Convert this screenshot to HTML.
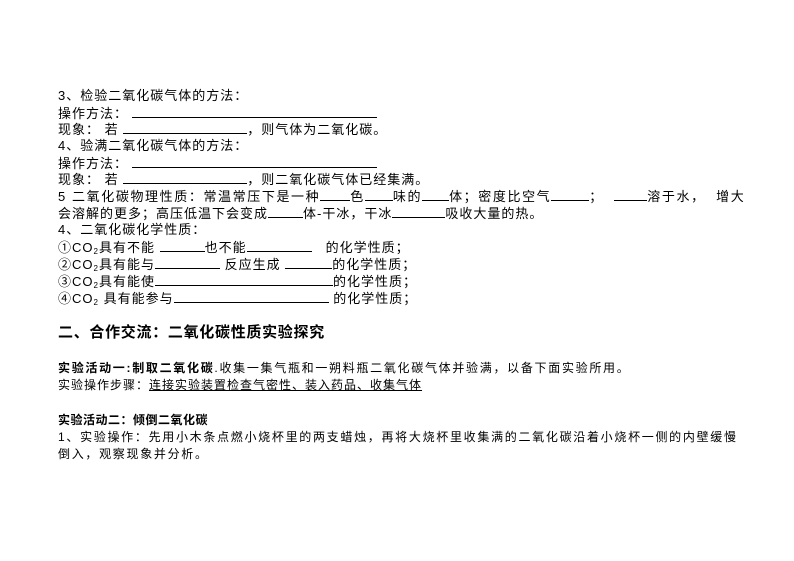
<html><head><style>
body{margin:0;width:794px;height:561px;background:#fff;position:relative;font-family:"Liberation Sans","Noto Sans CJK SC",sans-serif;font-size:12px;color:#000}
.l{position:absolute;left:58px;white-space:nowrap;line-height:16px}
.j{width:687px;text-align:justify;text-align-last:justify;white-space:normal}
.t{font-size:13px;letter-spacing:1px}
.u{display:inline-block;border-bottom:1px solid #000;height:12px;vertical-align:baseline;letter-spacing:0}
sub{font-size:8px;vertical-align:-2px;line-height:0}
b{font-weight:bold}
</style></head><body>
<div class="l t" style="top:88px">3、检验二氧化碳气体的方法：</div>
<div class="l t" style="top:105px">操作方法：<span class="u" style="width:245px;margin-left:4px"></span></div>
<div class="l t" style="top:121px">现象： 若 <span class="u" style="width:124px"></span>，则气体为二氧化碳。</div>
<div class="l t" style="top:138px">4、验满二氧化碳气体的方法：</div>
<div class="l t" style="top:155px">操作方法：<span class="u" style="width:245px;margin-left:4px"></span></div>
<div class="l t" style="top:171px">现象： 若 <span class="u" style="width:124px"></span>，则二氧化碳气体已经集满。</div>
<div class="l t" style="top:188px;letter-spacing:1.6px">5 二氧化碳物理性质：常温常压下是一种<span class="u" style="width:30px"></span>色<span class="u" style="width:28px"></span>味的<span class="u" style="width:27px"></span>体；密度比空气<span class="u" style="width:38px"></span>；&nbsp;&nbsp;<span class="u" style="width:33px"></span>溶于水，&nbsp;&nbsp;增大</div>
<div class="l t" style="top:205px">会溶解的更多；高压低温下会变成<span class="u" style="width:35px"></span>体-干冰，干冰<span class="u" style="width:53px"></span>吸收大量的热。</div>
<div class="l t" style="top:222px">4、二氧化碳化学性质：</div>
<div class="l t" style="top:239px">①CO<sub>2</sub>具有不能 <span class="u" style="width:45px"></span>也不能<span class="u" style="width:65px"></span>　的化学性质；</div>
<div class="l t" style="top:256px">②CO<sub>2</sub>具有能与<span class="u" style="width:65px"></span> 反应生成 <span class="u" style="width:47px"></span>的化学性质；</div>
<div class="l t" style="top:273px">③CO<sub>2</sub>具有能使<span class="u" style="width:178px"></span>的化学性质；</div>
<div class="l t" style="top:290px">④CO<sub>2</sub> 具有能参与<span class="u" style="width:155px"></span> 的化学性质；</div>
<div class="l" style="top:325px;font-size:15px;letter-spacing:0.7px;font-weight:bold">二、合作交流：二氧化碳性质实验探究</div>
<div class="l" style="top:360px;letter-spacing:1.7px"><b>实验活动一:制取二氧化碳</b>.收集一集气瓶和一朔料瓶二氧化碳气体并验满，以备下面实验所用。</div>
<div class="l" style="top:377px;letter-spacing:1px">实验操作步骤：<span style="text-decoration:underline">连接实验装置检查气密性、装入药品、收集气体</span></div>
<div class="l" style="top:412px;letter-spacing:0.5px"><b>实验活动二：倾倒二氧化碳</b></div>
<div class="l" style="top:429px;letter-spacing:1.7px">1、实验操作：先用小木条点燃小烧杯里的两支蜡烛，再将大烧杯里收集满的二氧化碳沿着小烧杯一侧的内壁缓慢</div>
<div class="l" style="top:446px;letter-spacing:1.7px">倒入，观察现象并分析。</div>
</body></html>
